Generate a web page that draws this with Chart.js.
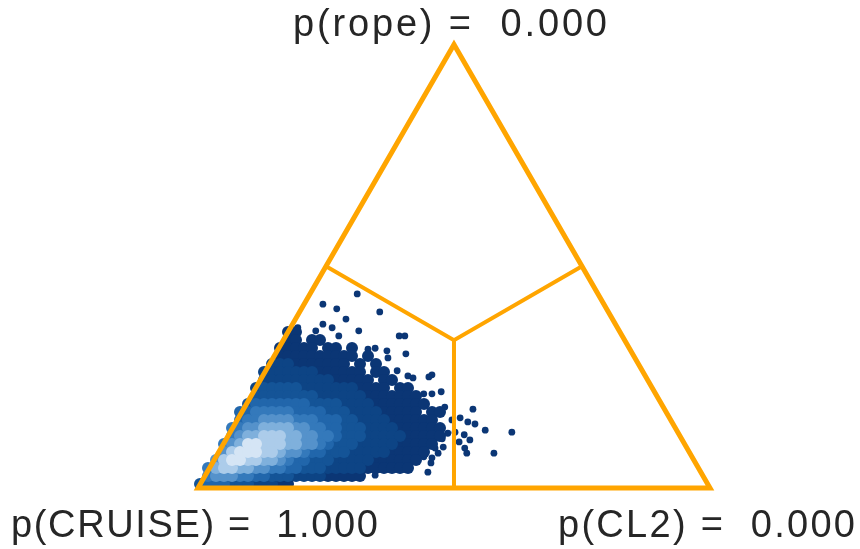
<!DOCTYPE html>
<html>
<head>
<meta charset="utf-8">
<script src="https://cdn.jsdelivr.net/npm/chart.js"></script>
<style>
  html, body { margin: 0; padding: 0; background: #fff; }
  canvas { display: block; }
</style>
</head>
<body>
<canvas id="ternary" width="860" height="549"></canvas>
<script>
// corners of the simplex: bottom-left, bottom-right, top
const cornerNames = ['CRUISE', 'CL2', 'rope'];
const cornerProbs = [1.000, 0.000, 0.000];

// density of posterior samples, binned in the triangle plane
// one string per row, top row first, '.' = no samples, 1..9 = low..high
const binSize = 0.015625;
const binOrigin = [0.0039, 0.0078];
const densityRows = [
  "...........11",
  "...........11.11",
  "..........11111.11.1",
  "..........1111111111.1",
  ".........2221111111.1.1",
  "........2222222111111.11",
  "........22222222211111.11",
  ".......23333322222221111.11",
  ".......333333332222221111111",
  "......34444444333322221111111",
  ".....44555554444333222211111.11",
  ".....4556666555444332222111111",
  "....556677776655443332222111111",
  "....567788877665543332222211111",
  "...567998887766543332222211111",
  "...68999887665443332222211111",
  "..68998877654433322222111111",
  ".57887766554433322222111111",
  ".56665544333222211111",
  "344433322211"
];

// single samples outside the dense part (triangle-plane x, y)
const strayX = [0.311, 0.244, 0.271, 0.355, 0.289, 0.244, 0.262, 0.195, 0.314, 0.230,
  0.393, 0.404, 0.275, 0.332, 0.346, 0.369, 0.371, 0.406, 0.389, 0.410,
  0.420, 0.457, 0.451, 0.475, 0.441, 0.457, 0.482, 0.537, 0.512, 0.527,
  0.541, 0.561, 0.613, 0.520, 0.531, 0.502, 0.510, 0.521, 0.525, 0.578,
  0.477, 0.479, 0.463, 0.469, 0.457, 0.455, 0.441, 0.449, 0.393, 0.346,
  0.258, 0.410, 0.488, 0.496];
const strayY = [0.379, 0.359, 0.350, 0.344, 0.330, 0.320, 0.313, 0.313, 0.307, 0.307,
  0.297, 0.297, 0.297, 0.271, 0.273, 0.268, 0.254, 0.262, 0.229, 0.219,
  0.215, 0.221, 0.217, 0.188, 0.184, 0.184, 0.158, 0.154, 0.137, 0.129,
  0.125, 0.113, 0.109, 0.104, 0.094, 0.109, 0.090, 0.078, 0.068, 0.068,
  0.096, 0.080, 0.078, 0.068, 0.059, 0.049, 0.061, 0.031, 0.039, 0.025,
  0.021, 0.051, 0.107, 0.133];

const blues = ['#0b3675', '#0d4485', '#145497', '#2166ab', '#3479bb',
  '#5592cb', '#7fb0dc', '#acccea', '#d5e5f5'];
const edgeColor = '#ffa500';

const H = Math.sqrt(3) / 2;

// dense cells -> points, light ones drawn last
const cells = [];
densityRows.forEach((row, i) => {
  const r = densityRows.length - 1 - i;
  for (let c = 0; c < row.length; c++) {
    const ch = row[c];
    if (ch === '.') continue;
    cells.push({ x: binOrigin[0] + c * binSize, y: binOrigin[1] + r * binSize, d: +ch });
  }
});
cells.sort((a, b) => a.d - b.d);

const strays = strayX.map((x, i) => ({ x: x, y: strayY[i] }));

const cornerLabels = {
  id: 'cornerLabels',
  afterDraw(chart) {
    const ctx = chart.ctx;
    const spots = [
      { i: 0, left: 11, base: 537, width: 367 },
      { i: 1, left: 558, base: 537, width: 297 },
      { i: 2, left: 293, base: 36, width: 314 }
    ];
    ctx.save();
    ctx.font = '38px "Liberation Sans", Arial, sans-serif';
    ctx.fillStyle = '#262626';
    ctx.textBaseline = 'alphabetic';
    ctx.textAlign = 'left';
    spots.forEach(s => {
      const txt = 'p(' + cornerNames[s.i] + ') =  ' + cornerProbs[s.i].toFixed(3);
      const chars = txt.split('');
      const widths = chars.map(ch => ctx.measureText(ch).width);
      const natural = widths.reduce((a, b) => a + b, 0);
      const extra = (s.width - natural) / (chars.length - 1);
      let x = s.left;
      chars.forEach((ch, k) => {
        ctx.fillText(ch, x, s.base);
        x += widths[k] + extra;
      });
    });
    ctx.restore();
  }
};

new Chart(document.getElementById('ternary'), {
  type: 'scatter',
  data: {
    datasets: [
      {
        data: [{ x: 0.5, y: 0 }, { x: 1, y: 0 }, { x: 0.5, y: H }, { x: 0, y: 0 }, { x: 0.5, y: 0 }],
        showLine: true,
        borderColor: edgeColor,
        borderWidth: 5,
        borderJoinStyle: 'miter',
        pointRadius: 0,
        order: 0
      },
      {
        data: [{ x: 0.25, y: H / 2 }, { x: 0.5, y: H / 3 }, { x: 0.75, y: H / 2 }],
        showLine: true,
        borderColor: edgeColor,
        borderWidth: 4,
        borderJoinStyle: 'miter',
        pointRadius: 0,
        order: 0
      },
      {
        data: [{ x: 0.5, y: H / 3 }, { x: 0.5, y: 0 }],
        showLine: true,
        borderColor: edgeColor,
        borderWidth: 4,
        pointRadius: 0,
        order: 0
      },
      {
        data: cells,
        pointRadius: 6,
        pointBorderWidth: 0,
        pointBackgroundColor: ctx => blues[(ctx.raw ? ctx.raw.d : 1) - 1],
        order: 1
      },
      {
        data: strays,
        pointRadius: 3.4,
        pointBorderWidth: 0,
        pointBackgroundColor: blues[0],
        order: 2
      }
    ]
  },
  options: {
    responsive: false,
    animation: false,
    layout: { padding: 0, autoPadding: false },
    scales: {
      x: { type: 'linear', min: -0.3867, max: 1.293, display: false },
      y: { type: 'linear', min: -0.1191, max: 0.9531, display: false }
    },
    plugins: {
      legend: { display: false },
      tooltip: { enabled: false }
    }
  },
  plugins: [cornerLabels]
});
</script>
</body>
</html>
